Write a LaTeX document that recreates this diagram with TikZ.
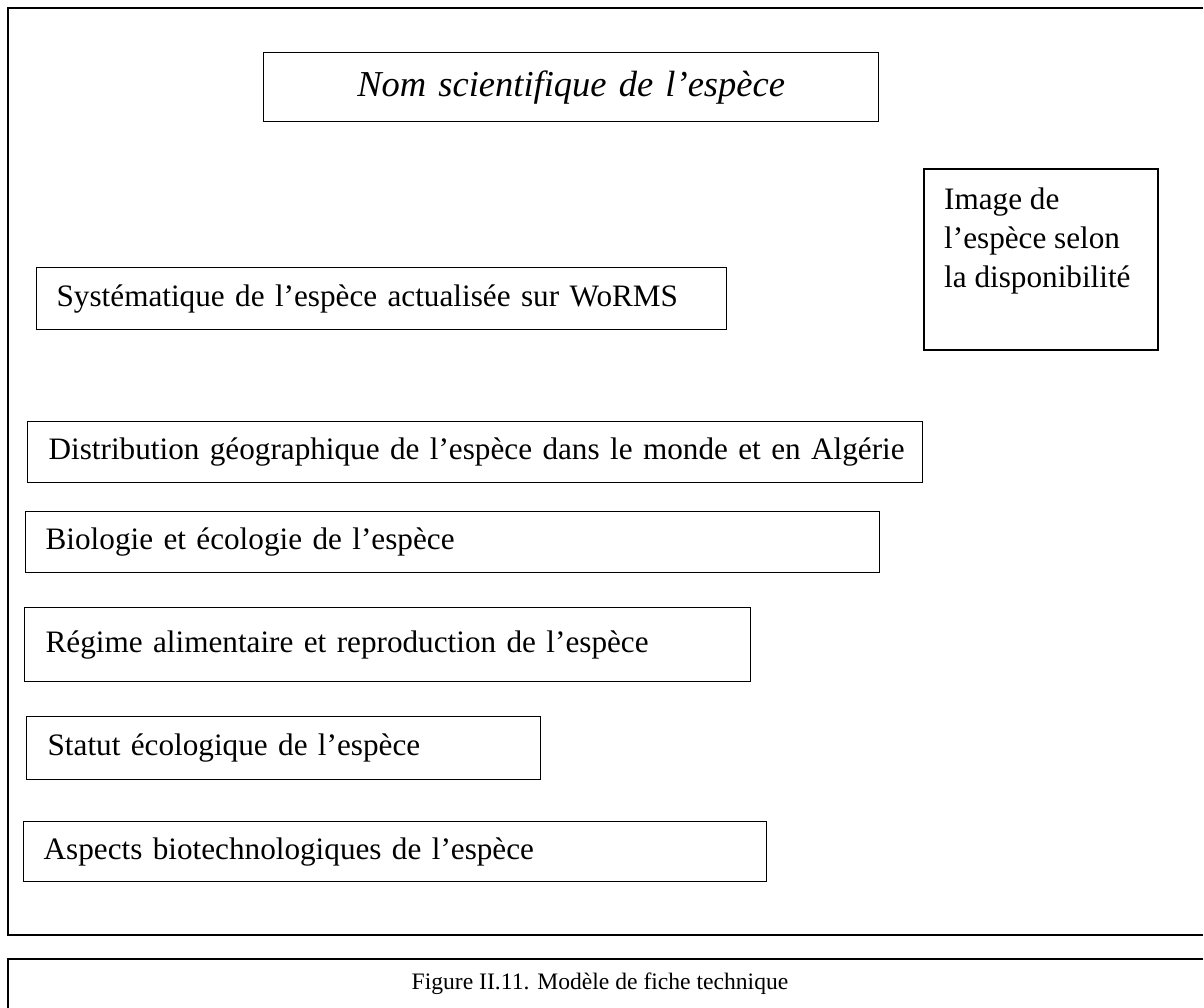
\documentclass[tikz,border=0pt]{standalone}
\usepackage{fontspec}
\setmainfont{Liberation Serif}
\begin{document}
\begin{tikzpicture}[x=1pt,y=-1pt,
  box/.style={draw=black, line width=1.3pt, anchor=north west, inner ysep=0pt, align=left,
     font=\fontsize{31.2}{39}\selectfont},
  frame/.style={draw=black, line width=2pt}]
\useasboundingbox (0,0) rectangle (1204,1008);
% outer frame
\draw[frame] (1203,8) -- (8,8) -- (8,935) -- (1203,935);
\draw[frame] (1203,959) -- (8,959) -- (8,1010);
\node[font=\fontsize{23.6}{28}\selectfont] (cap) at (600,984) {Figure II.11. Modèle de fiche technique};
% title
\node[box, minimum width=615pt, minimum height=69pt, inner xsep=0pt, text width=615pt, align=center,
  font=\fontsize{36.5}{40}\selectfont\itshape] (title) at (263,52) {Nom scientifique de l’espèce};
% image box
\draw[line width=1.3pt] (924,169) rectangle (1158,350);
\node[anchor=north west, align=left, inner sep=0pt, font=\fontsize{31.2}{39}\selectfont] (img) at (944,188)
  {Image de\\l’espèce selon\\la disponibilité};
% rows
\node[box, minimum height=62pt, inner xsep=20pt, text width=650pt] (sys) at (36,267)
  {\mbox{Systématique de l’espèce actualisée sur WoRMS}};
\node[box, minimum height=61pt, inner xsep=21pt, text width=853pt] (dist) at (27,421)
  {\mbox{Distribution géographique de l’espèce dans le monde et en Algérie}};
\node[box, minimum height=61pt, inner xsep=20pt, text width=814pt] (bio) at (25,511)
  {\mbox{Biologie et écologie de l’espèce}};
\node[box, minimum height=74pt, inner xsep=21pt, text width=684pt] (reg) at (24,607)
  {\mbox{Régime alimentaire et reproduction de l’espèce}};
\node[box, minimum height=63pt, inner xsep=21pt, text width=472pt] (stat) at (26,716)
  {\mbox{Statut écologique de l’espèce}};
\node[box, minimum height=60pt, inner xsep=20pt, text width=703pt] (asp) at (23,821)
  {\mbox{Aspects biotechnologiques de l’espèce}};
\end{tikzpicture}
\end{document}
